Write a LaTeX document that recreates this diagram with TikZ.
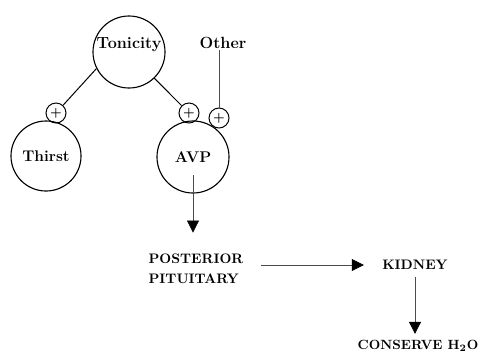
\documentclass[tikz,border=0pt]{standalone}
\usetikzlibrary{arrows.meta}

\begin{document}
\begin{tikzpicture}[x=0.025cm, y=-0.025cm,
  bigcirc/.style={circle, draw, line width=0.8pt, inner sep=0pt,
                  font=\fontsize{11}{12}\selectfont\bfseries},
  pluscirc/.style={circle, draw, line width=0.7pt, minimum size=0.5cm,
                   inner sep=0pt, font=\fontsize{9}{9}\selectfont\bfseries},
  lbl/.style={inner sep=1pt, font=\fontsize{11.5}{12}\selectfont\bfseries},
  caps/.style={inner sep=1pt, align=left,
               font=\fontsize{9.8}{14}\selectfont\bfseries},
  link/.style={line width=0.7pt},
  arr/.style={draw=black!70, line width=0.45pt,
              -{Triangle[width=0.3cm, length=0.3cm, color=black]}}
]
  \useasboundingbox (0,0) rectangle (480,356);

  \node[bigcirc, minimum size=1.8cm] (tonicity) at (129,52) {};
  \node[lbl] (tonicitytxt) at (129,45) {Tonicity};
  \node[bigcirc, minimum size=1.75cm] (thirst) at (46,156) {Thirst};
  \node[bigcirc, minimum size=1.8cm] (avp) at (193,157) {AVP};

  \node[pluscirc] (plusa) at (56,113) {+};
  \node[pluscirc] (plusb) at (189,113) {+};
  \node[pluscirc] (plusc) at (219,118) {+};
  \node[lbl] (other) at (223,43) {Other};

  \node[caps] (posterior) at (196,269) {POSTERIOR\\PITUITARY};
  \node[caps] (kidney) at (415,265) {KIDNEY};
  \node[caps, anchor=east, font=\fontsize{9.5}{12}\selectfont\bfseries]
    (conserve) at (480,346) {CONSERVE H$_\mathbf{2}$O};

  \draw[link] (tonicity.207) -- (plusa);
  \draw[link] (tonicity.314) -- (plusb);
  \draw[draw=black!70, line width=0.45pt] (plusc |- other.south) -- (plusc);

  \coordinate (avpout) at ([yshift=-0.45cm]avp.center);
  \draw[arr, shorten >=0.5cm] (avpout) -- (avpout |- posterior.north);
  \draw[arr, shorten <=0.4cm, shorten >=0.42cm] (posterior.east |- kidney.west) -- (kidney.west);
  \draw[arr, shorten <=0.15cm, shorten >=0.12cm] (kidney.south) -- (kidney.south |- conserve.north);
\end{tikzpicture}
\end{document}
